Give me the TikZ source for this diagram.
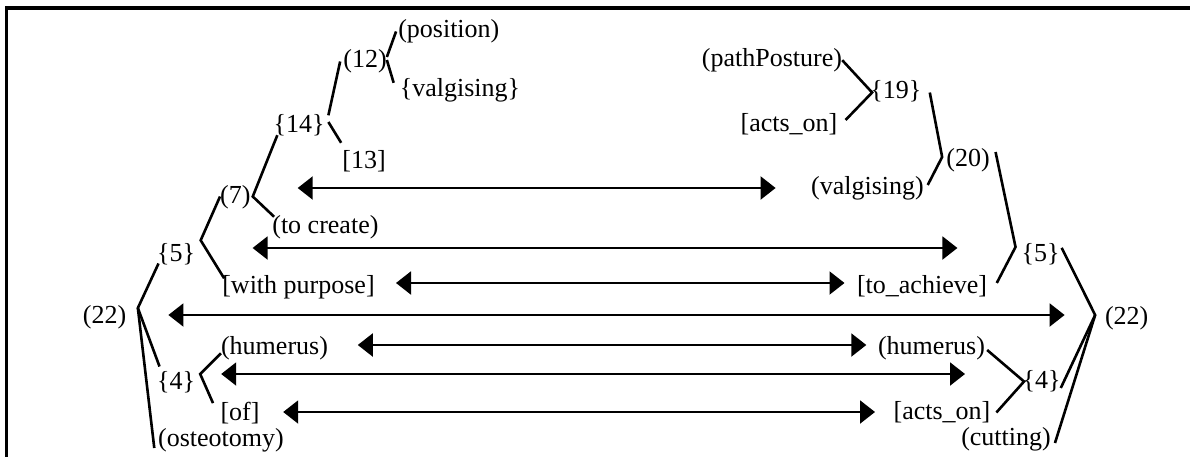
\documentclass[tikz,border=0pt]{standalone}
\usepackage{fontspec}
\setmainfont{Liberation Serif}
\usetikzlibrary{arrows.meta}
\tikzset{
  lbl/.style={inner sep=0pt, text height=17.5pt, text depth=4.5pt, anchor=base, font=\fontsize{26}{30}\selectfont},
  tree/.style={line width=2.6pt},
  dbl/.style={line width=2.1pt, {Triangle[length=15pt,width=23pt]}-{Triangle[length=15pt,width=23pt]}},
  frame/.style={line width=3.2pt}
}
\begin{document}
\begin{tikzpicture}[x=1pt,y=-1pt]
\useasboundingbox (0,0) rectangle (1190,457);
\draw[frame] (6.8,457) -- (6.8,8) -- (1190,8);
% left tree
\node[lbl] (pos) at (448.8,38) {(position)};
\node[lbl] (n12) at (365,68) {(12)};
\node[lbl] (valg1) at (460,97) {\{valgising\}};
\node[lbl] (n14) at (299,133) {\{14\}};
\node[lbl] (n13) at (364,168) {[13]};
\node[lbl] (n7) at (235.4,203) {(7)};
\node[lbl] (create) at (325.4,233) {(to create)};
\node[lbl] (n5L) at (176,261) {\{5\}};
\node[lbl] (purpose) at (298.5,293) {[with purpose]};
\node[lbl] (n22L) at (104.5,323.5) {(22)};
\node[lbl] (humL) at (274.5,354) {(humerus)};
\node[lbl] (n4L) at (176,389) {\{4\}};
\node[lbl] (ofn) at (240,420) {[of]};
\node[lbl] (osteo) at (221,446) {(osteotomy)};
% right tree
\node[lbl] (pathp) at (772,66.7) {(pathPosture)};
\node[lbl] (n19) at (895.8,99) {\{19\}};
\node[lbl] (acts1) at (789,132) {[acts\_on]};
\node[lbl] (n20) at (968,167) {(20)};
\node[lbl] (valg2) at (867.5,194) {(valgising)};
\node[lbl] (n5R) at (1040.7,261) {\{5\}};
\node[lbl] (achieve) at (922,293) {[to\_achieve]};
\node[lbl] (n22R) at (1126.7,324) {(22)};
\node[lbl] (humR) at (931.5,354) {(humerus)};
\node[lbl] (n4R) at (1041.6,388) {\{4\}};
\node[lbl] (acts2) at (942,419) {[acts\_on]};
\node[lbl] (cut) at (1006,445) {(cutting)};
% left connectors
\draw[tree] ([yshift=4.5pt]n12.east) -- ([xshift=-2pt]pos.west);
\draw[tree] ([yshift=1.5pt]n12.east) -- ([xshift=-6pt,yshift=-3.5pt]valg1.north west);
\draw[tree] ([xshift=3.7pt]n14.north east) -- ([xshift=-3pt]n12.west);
\draw[tree] ([xshift=3.7pt,yshift=4.5pt]n14.east) -- ([xshift=-1pt,yshift=7.5pt]n13.north west);
\draw[tree] ([xshift=4pt,yshift=2.5pt]n14.south west) -- ([xshift=2pt]n7.east) -- ([xshift=2pt,yshift=-1.5pt]create.north west);
\draw[tree] (n7.west) -- ([xshift=5.5pt,yshift=3pt]n5L.north east) -- ([xshift=2pt,yshift=-3pt]purpose.north west);
\draw[tree] ([xshift=1.7pt,yshift=2.2pt]n5L.south west) -- ([xshift=11.5pt,yshift=9pt]n22L.east) -- ([xshift=2.7pt,yshift=4.8pt]n4L.north west);
\draw[tree] ([xshift=11.5pt,yshift=9pt]n22L.east) -- ([xshift=-3.7pt,yshift=-8.5pt]osteo.west);
\draw[tree] ([yshift=-5.8pt]humL.west) -- ([xshift=5pt,yshift=8.5pt]n4L.east) -- ([xshift=-7.3pt,yshift=-0.8pt]ofn.north west);
% right connectors
\draw[tree] (pathp.east) -- ([xshift=2pt]n19.west) -- ([xshift=8pt,yshift=5.5pt]acts1.east);
\draw[tree] ([xshift=8.3pt]n19.east) -- ([xshift=-4pt,yshift=3.5pt]n20.west) -- ([xshift=3.7pt,yshift=2.5pt]valg2.east);
\draw[tree] ([xshift=5.7pt,yshift=8.5pt]n20.east) -- ([xshift=-6pt,yshift=7.5pt]n5R.west) -- ([xshift=9.6pt,yshift=3.5pt]achieve.east);
\draw[tree] ([xshift=1.8pt,yshift=-4.5pt]n5R.north east) -- ([xshift=-9.7pt,yshift=2.5pt]n22R.west) -- ([yshift=-6.5pt]n4R.east);
\draw[tree] ([xshift=-9.7pt,yshift=2.5pt]n22R.west) -- ([xshift=4pt,yshift=-4.5pt]cut.east);
\draw[tree] ([xshift=2pt,yshift=-2.5pt]humR.east) -- ([xshift=1.6pt]n4R.west) -- ([xshift=5.8pt]acts2.east);
% correspondence arrows
\coordinate (a1l) at (297.7,188); \coordinate (a1r) at (775.6,188);
\coordinate (a2l) at (252.6,248); \coordinate (a2r) at (957.4,248);
\coordinate (a3l) at (396,283);   \coordinate (a3r) at (844.5,283);
\coordinate (a4l) at (168.4,315); \coordinate (a4r) at (1064.6,315);
\coordinate (a5l) at (357.8,345); \coordinate (a5r) at (866.3,345);
\coordinate (a6l) at (221.2,374); \coordinate (a6r) at (965,374);
\coordinate (a7l) at (283.2,412); \coordinate (a7r) at (875,412);
\foreach \i in {1,...,7} \draw[dbl] (a\i l) -- (a\i r);
\end{tikzpicture}
\end{document}
